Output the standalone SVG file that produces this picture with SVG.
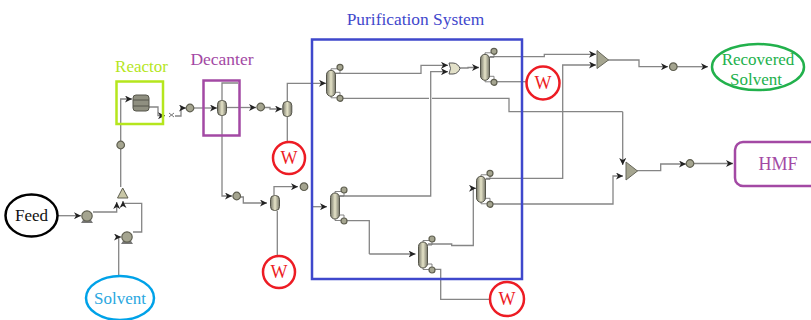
<svg xmlns="http://www.w3.org/2000/svg" width="811" height="320" viewBox="0 0 811 320">
<style>
text{font-family:"Liberation Serif","Times New Roman",serif;text-anchor:middle}
.c{fill:none;stroke:#858585;stroke-width:1.3;marker-end:url(#a)}
.n{fill:none;stroke:#858585;stroke-width:1.3}
.w{fill:#fff;stroke:#ed1c24;stroke-width:2.5}
.wt{fill:#ed1c24;font-size:18px}
.eq{fill:#c9c7a6;stroke:#5f5f50;stroke-width:1}
.hx{fill:#a5a590;stroke:#5f5f50;stroke-width:1.2}
.lk{fill:none;stroke:#777;stroke-width:.9}
</style>
<defs>
<marker id="a" markerWidth="8" markerHeight="7" refX="7" refY="3.500" orient="auto" markerUnits="userSpaceOnUse"><path d="M0 0L7 3.500L0 7L2 3.500Z" fill="#222"/></marker>
<linearGradient id="g"><stop offset="0" stop-color="#77776a"/><stop offset=".5" stop-color="#e6e4c8"/><stop offset="1" stop-color="#77776a"/></linearGradient>
<g id="col"><path d="M0 -12V-14.500H6M9 -13V-10H4M0 12V14.500H6M9 12V9H4" class="lk"/><rect x="-4.500" y="-13" width="9" height="26" rx="4.500" fill="url(#g)" stroke="#55554a"/><circle cx="9" cy="-16" r="3" class="hx"/><circle cx="9" cy="15" r="3" class="hx"/></g>
<rect id="ves" x="-4.500" y="-7.500" width="9" height="15" rx="4" fill="url(#g)" stroke="#55554a"/>
<circle id="hx" r="3.800" class="hx"/>
<g id="pump"><path d="M-4 4L-6 7H6L4 4Z" fill="#777"/><circle r="5.200" class="hx"/></g>
</defs>
<rect width="811" height="320" fill="#fff"/>
<g id="connectors">
<path class="c" d="M58 215.700H81"/>
<path class="c" d="M93 212H116.700V202"/>
<path class="c" d="M118.700 276V237H121"/>
<path class="c" d="M133 232H141.700V203.300H123V201"/>
<path class="n" d="M120.700 187V149"/>
<path class="c" d="M120.700 141V99H132"/>
<path class="c" d="M149 107H158V115.700H165"/>
<path class="c" d="M175 116H181V108H186"/>
<path class="c" d="M194 108H217"/>
<path class="c" d="M227 107.500H256"/>
<path class="c" d="M265 107.500H270V109H282"/>
<path class="n" d="M287.300 142V117"/>
<path class="c" d="M287.300 101V83.300H326"/>
<path class="c" d="M222 115V196H232"/>
<path class="n" d="M222 101V83H238"/>
<path class="c" d="M240.500 197H243.300V203H267"/>
<path class="n" d="M277.300 256V211"/>
<path class="c" d="M274 195V186.700H298"/>
<path class="c" d="M312 206.700H327"/>
<path class="c" d="M336 73.300H421V65.300H448"/>
<path class="c" d="M340 196H430.700V71.700H448"/>
<path class="c" d="M458 68H468V67.500H479"/>
<path class="n" d="M343 98.300H429M432 98.300H509V111.700H622.700"/>
<path class="c" d="M622.700 111.700V165"/>
<path class="c" d="M490 56.700H544.300V54.300H596"/>
<path class="n" d="M496 81.700H527"/>
<path class="n" d="M346 220.700H369.300V254"/>
<path class="c" d="M369.300 254H415.500"/>
<path class="c" d="M428 244H451.700V245.500H473.300V188.300H476"/>
<path class="n" d="M434 269.300H440.700V299.300H490"/>
<path class="c" d="M486 178.300H562.700V65H596"/>
<path class="c" d="M491 204H613V176H623"/>
<path class="c" d="M608 60H639V66.700H668"/>
<path class="c" d="M677 66.700H708"/>
<path class="c" d="M637 170.700H660.700V164H686"/>
<path class="c" d="M694 163.500H733"/>
</g>
<g id="feed"><ellipse cx="31.500" cy="215.500" rx="26" ry="21" fill="#fff" stroke="#000" stroke-width="2.500"/><text x="31.500" y="221" font-size="17" fill="#111">Feed</text></g>
<g id="solvent"><ellipse cx="120" cy="298" rx="34" ry="22" fill="#fff" stroke="#00a2e8" stroke-width="2.500"/><text x="120" y="304" font-size="17" fill="#2aa7e0">Solvent</text></g>
<g id="pump-feed"><use href="#pump" x="87" y="216"/></g>
<g id="pump-solvent"><use href="#pump" x="127" y="237"/></g>
<g id="mixer-feed"><path d="M122.700 188L128 198H117.500Z" class="eq"/></g>
<g id="hx-reactor"><use href="#hx" x="120.700" y="145"/></g>
<g id="reactor"><rect x="116.500" y="81.500" width="46.500" height="42.500" fill="none" stroke="#b5e61d" stroke-width="2.500"/><rect x="133" y="95" width="16" height="16" rx="3" fill="#8f8f80" stroke="#55554a"/><path d="M133 100H149M133 106H149" stroke="#55554a"/><text x="141.500" y="72" font-size="17" fill="#b5e61d">Reactor</text></g>
<g id="valve"><path d="M169 113L174 117M169 117L174 113" stroke="#777" fill="none"/></g>
<g id="hx-decanter-in"><use href="#hx" x="190" y="108"/></g>
<g id="decanter"><rect x="203.500" y="80.500" width="36" height="55" fill="none" stroke="#a349a4" stroke-width="2.500"/><use href="#ves" x="222" y="108"/><text x="222" y="65" font-size="17.500" fill="#a349a4">Decanter</text></g>
<g id="hx-top"><use href="#hx" x="260.700" y="107"/></g>
<g id="hx-bottom"><use href="#hx" x="236.700" y="196"/></g>
<g id="vessel-top"><use href="#ves" x="287.300" y="109"/></g>
<g id="vessel-bottom"><use href="#ves" x="275" y="203"/></g>
<g id="hx-side"><use href="#hx" x="304" y="186.700"/></g>
<g id="purification"><rect x="312" y="39.500" width="210" height="239.500" fill="none" stroke="#3f48cc" stroke-width="2.500"/><text x="415.500" y="25" font-size="17.400" fill="#3f48cc">Purification System</text></g>
<g id="column-a"><use href="#col" x="331" y="83.300"/></g>
<g id="column-b"><use href="#col" x="485" y="67.300"/></g>
<g id="column-c"><use href="#col" x="335" y="206"/></g>
<g id="column-d"><use href="#col" x="423" y="255"/></g>
<g id="column-e"><use href="#col" x="481" y="189.300"/></g>
<g id="mixer-inner"><path d="M449 63H453C457 63 459 66 460 68.500C459 71 457 74 453 74H449Q452 68.500 449 63Z" fill="#e2e0c8" stroke="#555"/></g>
<g id="mixer-solvent"><path d="M597 50.500L608.500 60L597 68.500Z" fill="#a5a590" stroke="#66665a"/></g>
<g id="mixer-hmf"><path d="M626 162L637.500 171L626 180Z" fill="#a5a590" stroke="#66665a"/></g>
<g id="hx-solvent"><use href="#hx" x="673.300" y="66.700"/></g>
<g id="hx-hmf"><use href="#hx" x="690" y="163.500"/></g>
<g id="w1"><circle class="w" cx="289" cy="158" r="16"/><text class="wt" x="289" y="164">W</text></g>
<g id="w2"><circle class="w" cx="279" cy="272" r="16"/><text class="wt" x="279" y="278">W</text></g>
<g id="w3"><circle class="w" cx="543" cy="83" r="16.500"/><text class="wt" x="543" y="89">W</text></g>
<g id="w4"><circle class="w" cx="507" cy="299" r="17"/><text class="wt" x="507" y="305">W</text></g>
<g id="recovered"><ellipse cx="758" cy="67" rx="46" ry="23" fill="#fff" stroke="#22b14c" stroke-width="2.500"/><text x="758" y="65" font-size="17" fill="#22b14c">Recovered</text><text x="756" y="85" font-size="17" fill="#22b14c">Solvent</text></g>
<g id="hmf"><rect x="735" y="142" width="90" height="44" rx="8" fill="#fff" stroke="#a349a4" stroke-width="2.500"/><text x="778" y="170" font-size="18" fill="#a349a4">HMF</text></g>
</svg>
